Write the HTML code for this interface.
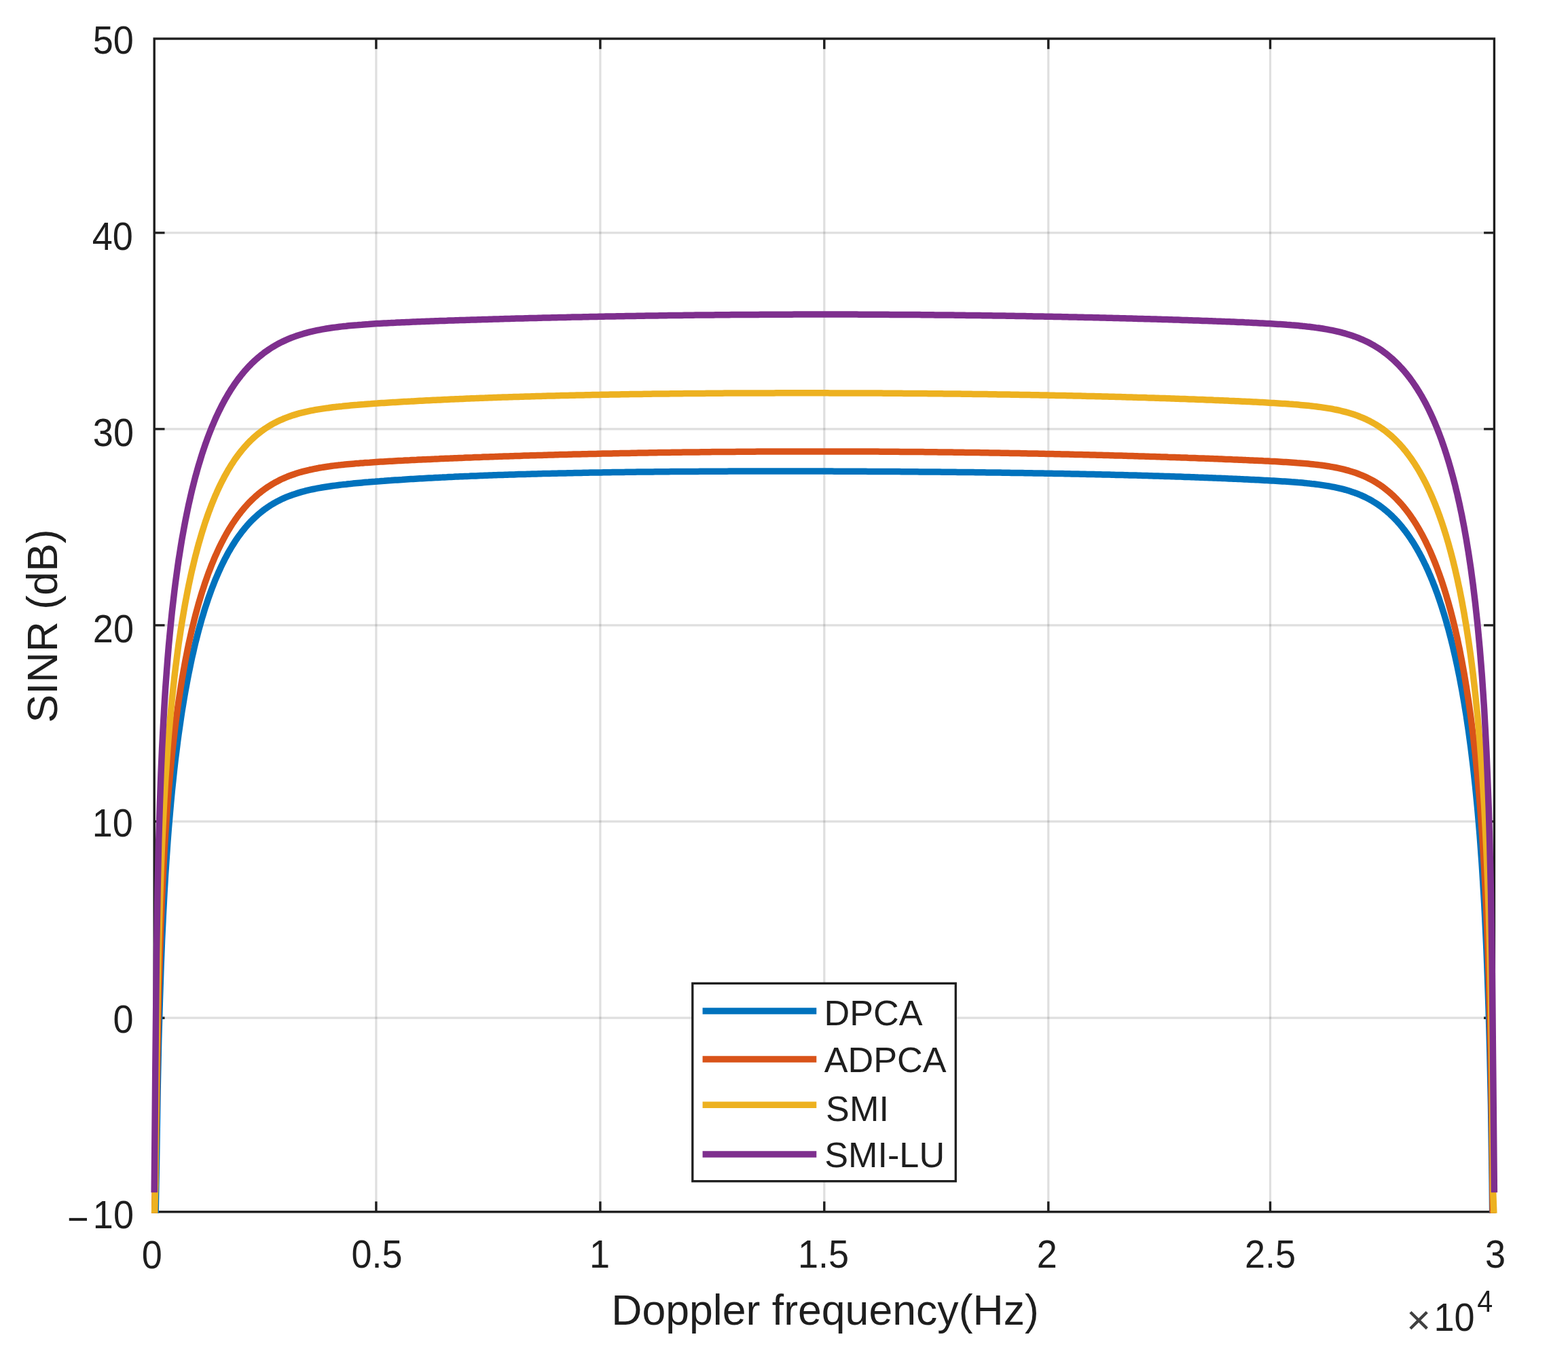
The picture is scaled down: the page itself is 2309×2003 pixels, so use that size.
<!DOCTYPE html>
<html><head><meta charset="utf-8"><title>SINR vs Doppler frequency</title>
<style>html,body{margin:0;padding:0;background:#fff;}body{width:2309px;height:2003px;overflow:hidden;}svg{display:block;}</style>
</head><body>
<svg width="2309" height="2003" viewBox="0 0 2309 2003">
<defs><clipPath id="ax"><rect x="221.2" y="57.0" width="1985.2" height="1729.8"/></clipPath></defs>
<rect width="2309" height="2003" fill="#fff"/>
<path d="M553.9 57.0V1784.8M883.9 57.0V1784.8M1213.8 57.0V1784.8M1543.8 57.0V1784.8M1870.5 57.0V1784.8" stroke="#262626" stroke-opacity="0.15" stroke-width="3.2" fill="none"/>
<path d="M227.2 342.9H2200.4M227.2 631.9H2200.4M227.2 920.9H2200.4M227.2 1209.9H2200.4M227.2 1499.2H2200.4" stroke="#262626" stroke-opacity="0.15" stroke-width="3.2" fill="none"/>
<path d="M553.9 57.0v15.3M553.9 1784.8v-15.3M883.9 57.0v15.3M883.9 1784.8v-15.3M1213.8 57.0v15.3M1213.8 1784.8v-15.3M1543.8 57.0v15.3M1543.8 1784.8v-15.3M1870.5 57.0v15.3M1870.5 1784.8v-15.3M227.2 342.9h15.3M2200.4 342.9h-15.3M227.2 631.9h15.3M2200.4 631.9h-15.3M227.2 920.9h15.3M2200.4 920.9h-15.3M227.2 1209.9h15.3M2200.4 1209.9h-15.3M227.2 1499.2h15.3M2200.4 1499.2h-15.3" stroke="#1e1e1e" stroke-width="3.4" fill="none"/>
<rect x="227.2" y="57.0" width="1973.2" height="1727.8" fill="none" stroke="#1e1e1e" stroke-width="3.4"/>
<g clip-path="url(#ax)" fill="none" stroke-width="9.5" stroke-linejoin="round" stroke-linecap="butt">
<path d="M227.2 1894.1 L230.5 1713.3 L232.1 1607.5 L233.7 1532.3 L235.4 1473.6 L237.0 1425.2 L238.6 1384.3 L240.3 1348.8 L241.9 1317.5 L243.5 1289.5 L245.2 1264.2 L246.8 1241.0 L248.4 1219.8 L250.1 1200.1 L251.7 1181.8 L253.3 1164.7 L255.0 1148.7 L256.6 1133.6 L258.2 1119.3 L259.9 1105.8 L261.5 1093.0 L263.1 1080.8 L264.8 1069.2 L266.4 1058.1 L268.0 1047.4 L269.7 1037.2 L271.3 1027.5 L272.9 1018.1 L274.6 1009.1 L276.2 1000.4 L277.8 992.0 L279.5 983.9 L281.1 976.1 L282.7 968.6 L284.4 961.3 L286.0 954.3 L287.6 947.4 L289.3 940.8 L290.9 934.5 L292.5 928.3 L294.2 922.2 L295.8 916.4 L297.4 910.8 L299.1 905.3 L300.7 899.9 L302.3 894.7 L304.0 889.7 L305.6 884.8 L307.2 880.0 L308.9 875.4 L310.5 870.9 L312.1 866.5 L313.8 862.3 L315.4 858.1 L317.0 854.1 L318.7 850.1 L320.3 846.3 L321.9 842.6 L323.6 839.0 L325.2 835.4 L326.8 832.0 L328.5 828.6 L330.1 825.4 L331.7 822.2 L333.4 819.1 L335.0 816.1 L336.6 813.1 L338.3 810.3 L339.9 807.5 L341.5 804.8 L343.2 802.1 L344.8 799.6 L346.4 797.0 L348.1 794.6 L349.7 792.2 L351.3 789.9 L353.0 787.7 L354.6 785.5 L356.2 783.3 L357.9 781.2 L359.5 779.2 L361.1 777.2 L362.8 775.3 L364.4 773.4 L366.0 771.6 L367.7 769.8 L369.3 768.1 L370.9 766.4 L372.6 764.8 L374.2 763.2 L375.8 761.7 L377.5 760.2 L379.1 758.7 L380.7 757.3 L382.4 755.9 L384.0 754.6 L385.6 753.3 L387.3 752.0 L388.9 750.7 L390.5 749.5 L392.2 748.4 L395.5 746.1 L398.7 744.0 L402.0 742.0 L405.3 740.2 L408.5 738.4 L411.8 736.7 L415.1 735.1 L418.3 733.6 L421.6 732.2 L424.9 730.9 L428.1 729.7 L431.4 728.5 L434.7 727.4 L437.9 726.4 L441.2 725.4 L444.5 724.4 L447.7 723.6 L451.0 722.7 L454.3 721.9 L457.5 721.2 L460.8 720.5 L464.1 719.8 L467.3 719.2 L470.6 718.6 L473.9 718.0 L477.1 717.5 L480.4 717.0 L483.7 716.5 L486.9 716.0 L490.2 715.5 L493.5 715.1 L496.7 714.7 L500.0 714.3 L503.3 713.9 L506.5 713.5 L509.8 713.2 L513.1 712.8 L516.3 712.5 L519.6 712.1 L522.9 711.8 L526.1 711.5 L529.4 711.2 L532.7 710.9 L535.9 710.6 L539.2 710.3 L542.5 710.1 L545.7 709.8 L549.0 709.5 L552.3 709.3 L555.6 709.0 L558.9 708.8 L562.1 708.5 L565.5 708.3 L568.8 708.0 L572.1 707.8 L575.4 707.6 L578.6 707.3 L581.9 707.1 L585.2 706.9 L588.5 706.7 L591.9 706.5 L595.1 706.2 L598.4 706.0 L601.8 705.8 L605.0 705.6 L608.4 705.4 L611.7 705.2 L615.0 705.0 L618.2 704.8 L621.5 704.7 L624.9 704.5 L628.1 704.3 L631.5 704.1 L634.8 703.9 L638.0 703.8 L641.4 703.6 L644.6 703.4 L648.0 703.2 L651.2 703.1 L654.6 702.9 L657.8 702.8 L661.2 702.6 L664.4 702.4 L667.8 702.3 L671.1 702.1 L674.4 702.0 L677.6 701.8 L680.9 701.7 L684.2 701.5 L687.6 701.4 L690.9 701.3 L694.1 701.1 L697.5 701.0 L700.8 700.9 L704.0 700.7 L707.4 700.6 L710.6 700.5 L714.0 700.3 L717.2 700.2 L720.5 700.1 L723.9 700.0 L727.2 699.8 L730.5 699.7 L733.8 699.6 L737.0 699.5 L740.4 699.4 L743.7 699.3 L746.9 699.2 L750.2 699.1 L753.5 699.0 L756.8 698.9 L760.2 698.7 L763.5 698.6 L766.8 698.5 L770.1 698.5 L773.4 698.4 L776.6 698.3 L780.0 698.2 L783.2 698.1 L786.5 698.0 L789.8 697.9 L793.1 697.8 L796.5 697.7 L799.8 697.6 L803.1 697.6 L806.4 697.5 L809.6 697.4 L813.0 697.3 L816.2 697.2 L819.5 697.2 L822.9 697.1 L826.2 697.0 L829.5 696.9 L832.8 696.9 L836.1 696.8 L839.4 696.7 L842.6 696.7 L846.0 696.6 L849.2 696.5 L852.5 696.5 L855.9 696.4 L859.2 696.3 L862.5 696.3 L865.8 696.2 L869.0 696.1 L872.4 696.1 L875.7 696.0 L879.0 696.0 L882.2 695.9 L885.5 695.9 L888.8 695.8 L892.1 695.8 L895.4 695.7 L898.7 695.7 L902.0 695.6 L905.3 695.6 L908.6 695.5 L911.9 695.5 L915.2 695.4 L918.5 695.4 L921.8 695.3 L925.1 695.3 L928.4 695.2 L931.7 695.2 L935.0 695.2 L938.3 695.1 L941.6 695.1 L944.9 695.1 L948.2 695.0 L951.5 695.0 L954.8 694.9 L958.1 694.9 L961.4 694.9 L964.7 694.8 L968.0 694.8 L971.3 694.8 L974.6 694.7 L977.9 694.7 L981.2 694.7 L984.5 694.7 L987.8 694.6 L991.1 694.6 L994.4 694.6 L997.7 694.6 L1001.0 694.5 L1004.3 694.5 L1007.6 694.5 L1010.9 694.5 L1014.2 694.4 L1017.5 694.4 L1020.8 694.4 L1024.1 694.4 L1027.4 694.4 L1030.7 694.3 L1034.0 694.3 L1037.3 694.3 L1040.6 694.3 L1043.9 694.3 L1047.2 694.2 L1050.5 694.2 L1053.8 694.2 L1057.1 694.2 L1060.4 694.2 L1063.7 694.2 L1067.0 694.2 L1070.3 694.2 L1073.6 694.1 L1076.9 694.1 L1080.2 694.1 L1083.5 694.1 L1086.8 694.1 L1090.1 694.1 L1093.4 694.1 L1096.7 694.1 L1100.0 694.1 L1103.3 694.1 L1106.6 694.1 L1109.9 694.0 L1113.2 694.0 L1116.5 694.0 L1119.8 694.0 L1123.1 694.0 L1126.4 694.0 L1129.7 694.0 L1133.0 694.0 L1136.3 694.0 L1139.6 694.0 L1142.9 694.0 L1146.2 694.0 L1149.5 694.0 L1152.8 694.0 L1156.1 694.0 L1159.4 694.0 L1162.7 694.0 L1166.0 694.0 L1169.3 694.0 L1172.6 694.0 L1175.9 694.0 L1179.2 694.0 L1182.5 694.0 L1185.8 694.0 L1189.1 694.1 L1192.4 694.1 L1195.7 694.1 L1199.0 694.1 L1202.3 694.1 L1205.6 694.1 L1208.9 694.1 L1212.2 694.1 L1215.4 694.1 L1218.8 694.1 L1222.0 694.1 L1225.3 694.1 L1228.7 694.2 L1231.9 694.2 L1235.2 694.2 L1238.5 694.2 L1241.8 694.2 L1245.2 694.2 L1248.5 694.2 L1251.8 694.2 L1255.0 694.2 L1258.4 694.3 L1261.6 694.3 L1265.0 694.3 L1268.2 694.3 L1271.5 694.3 L1274.9 694.3 L1278.2 694.4 L1281.5 694.4 L1284.8 694.4 L1288.1 694.4 L1291.4 694.4 L1294.7 694.4 L1297.9 694.5 L1301.2 694.5 L1304.6 694.5 L1307.8 694.5 L1311.1 694.5 L1314.5 694.6 L1317.8 694.6 L1321.0 694.6 L1324.4 694.6 L1327.6 694.7 L1331.0 694.7 L1334.2 694.7 L1337.5 694.7 L1340.9 694.8 L1344.2 694.8 L1347.5 694.8 L1350.8 694.8 L1354.1 694.9 L1357.3 694.9 L1360.7 694.9 L1364.0 694.9 L1367.2 695.0 L1370.6 695.0 L1373.9 695.0 L1377.2 695.1 L1380.5 695.1 L1383.7 695.1 L1387.1 695.2 L1390.3 695.2 L1393.6 695.2 L1397.0 695.2 L1400.2 695.3 L1403.5 695.3 L1406.8 695.3 L1410.2 695.4 L1413.5 695.4 L1416.8 695.5 L1420.1 695.5 L1423.3 695.5 L1426.7 695.6 L1430.0 695.6 L1433.2 695.6 L1436.5 695.7 L1439.9 695.7 L1443.2 695.8 L1446.5 695.8 L1449.8 695.8 L1453.0 695.9 L1456.4 695.9 L1459.7 696.0 L1462.9 696.0 L1466.3 696.0 L1469.5 696.1 L1472.8 696.1 L1476.2 696.2 L1479.4 696.2 L1482.8 696.3 L1486.0 696.3 L1489.3 696.4 L1492.7 696.4 L1496.0 696.5 L1499.2 696.5 L1502.5 696.6 L1505.9 696.6 L1509.2 696.7 L1512.5 696.7 L1515.8 696.8 L1519.0 696.8 L1522.4 696.9 L1525.7 696.9 L1529.0 697.0 L1532.2 697.0 L1535.6 697.1 L1538.9 697.2 L1542.2 697.2 L1545.4 697.3 L1548.7 697.3 L1552.0 697.4 L1555.2 697.4 L1558.5 697.5 L1561.8 697.6 L1565.0 697.6 L1568.3 697.7 L1571.6 697.8 L1574.8 697.8 L1578.1 697.9 L1581.4 698.0 L1584.6 698.0 L1587.9 698.1 L1591.2 698.2 L1594.4 698.2 L1597.7 698.3 L1601.0 698.4 L1604.2 698.4 L1607.5 698.5 L1610.8 698.6 L1614.0 698.7 L1617.3 698.7 L1620.6 698.8 L1623.8 698.9 L1627.1 699.0 L1630.4 699.0 L1633.6 699.1 L1636.9 699.2 L1640.2 699.3 L1643.4 699.4 L1646.7 699.4 L1650.0 699.5 L1653.2 699.6 L1656.5 699.7 L1659.8 699.8 L1663.0 699.9 L1666.3 699.9 L1669.6 700.0 L1672.8 700.1 L1676.1 700.2 L1679.4 700.3 L1682.6 700.4 L1685.9 700.5 L1689.2 700.6 L1692.4 700.7 L1695.7 700.8 L1699.0 700.9 L1702.2 701.0 L1705.5 701.1 L1708.8 701.2 L1712.1 701.3 L1715.3 701.4 L1718.6 701.5 L1721.9 701.6 L1725.1 701.7 L1728.4 701.8 L1731.7 701.9 L1734.9 702.0 L1738.2 702.1 L1741.5 702.2 L1744.7 702.4 L1748.0 702.5 L1751.3 702.6 L1754.5 702.7 L1757.8 702.8 L1761.1 702.9 L1764.3 703.1 L1767.6 703.2 L1770.9 703.3 L1774.1 703.4 L1777.4 703.5 L1780.7 703.7 L1783.9 703.8 L1787.2 703.9 L1790.5 704.1 L1793.7 704.2 L1797.0 704.3 L1800.3 704.5 L1803.5 704.6 L1806.8 704.7 L1810.1 704.9 L1813.3 705.0 L1816.6 705.2 L1819.9 705.3 L1823.1 705.4 L1826.4 705.6 L1829.7 705.7 L1832.9 705.9 L1836.2 706.0 L1839.5 706.2 L1842.7 706.4 L1846.0 706.5 L1849.3 706.7 L1852.5 706.8 L1855.8 707.0 L1859.1 707.2 L1862.3 707.4 L1865.6 707.5 L1868.9 707.7 L1872.1 707.9 L1875.4 708.1 L1878.7 708.3 L1882.0 708.5 L1885.3 708.7 L1888.6 708.9 L1891.9 709.1 L1895.2 709.3 L1898.5 709.5 L1901.8 709.8 L1905.1 710.0 L1908.4 710.3 L1911.7 710.6 L1915.0 710.8 L1918.3 711.1 L1921.6 711.4 L1924.9 711.8 L1928.2 712.1 L1931.5 712.5 L1934.8 712.8 L1938.1 713.2 L1941.4 713.6 L1944.7 714.1 L1948.0 714.6 L1951.3 715.1 L1954.6 715.6 L1957.9 716.2 L1961.2 716.8 L1964.5 717.4 L1967.8 718.1 L1971.1 718.8 L1974.4 719.6 L1977.7 720.4 L1981.0 721.3 L1984.3 722.3 L1987.6 723.3 L1990.9 724.4 L1994.2 725.5 L1997.5 726.7 L2000.8 728.0 L2004.1 729.4 L2007.4 730.9 L2010.7 732.4 L2014.0 734.1 L2017.3 735.8 L2020.6 737.7 L2023.9 739.7 L2027.2 741.8 L2030.5 744.0 L2032.2 745.2 L2033.8 746.4 L2035.5 747.6 L2037.1 748.9 L2038.7 750.2 L2040.4 751.6 L2042.0 752.9 L2043.7 754.4 L2045.3 755.8 L2047.0 757.3 L2048.6 758.9 L2050.3 760.4 L2051.9 762.1 L2053.6 763.7 L2055.2 765.5 L2056.9 767.2 L2058.5 769.0 L2060.2 770.9 L2061.8 772.8 L2063.5 774.8 L2065.1 776.8 L2066.8 778.9 L2068.4 781.0 L2070.1 783.2 L2071.7 785.4 L2073.4 787.7 L2075.0 790.1 L2076.7 792.5 L2078.3 795.0 L2080.0 797.5 L2081.6 800.1 L2083.3 802.8 L2084.9 805.5 L2086.6 808.4 L2088.2 811.3 L2089.9 814.2 L2091.5 817.3 L2093.2 820.4 L2094.8 823.6 L2096.5 826.9 L2098.1 830.3 L2099.8 833.7 L2101.4 837.3 L2103.1 840.9 L2104.7 844.7 L2106.4 848.5 L2108.0 852.5 L2109.7 856.5 L2111.3 860.7 L2113.0 864.9 L2114.6 869.3 L2116.3 873.8 L2117.9 878.4 L2119.6 883.2 L2121.2 888.1 L2122.9 893.1 L2124.5 898.3 L2126.2 903.6 L2127.8 909.0 L2129.5 914.7 L2131.1 920.5 L2132.8 926.4 L2134.4 932.6 L2136.1 938.9 L2137.7 945.4 L2139.4 952.2 L2141.0 959.1 L2142.7 966.3 L2144.3 973.7 L2146.0 981.4 L2147.6 989.4 L2149.3 997.6 L2150.9 1006.2 L2152.6 1015.0 L2154.2 1024.2 L2155.9 1033.8 L2157.5 1043.7 L2159.2 1054.1 L2160.8 1065.0 L2162.5 1076.3 L2164.1 1088.1 L2165.8 1100.6 L2167.4 1113.7 L2169.1 1127.4 L2170.7 1142.0 L2172.4 1157.4 L2174.0 1173.7 L2175.7 1191.2 L2177.3 1209.8 L2179.0 1229.9 L2180.6 1251.6 L2182.3 1275.3 L2183.9 1301.1 L2185.6 1329.8 L2187.2 1361.8 L2188.9 1398.1 L2190.5 1440.1 L2192.2 1489.7 L2193.8 1549.7 L2195.5 1626.9 L2197.1 1735.6 L2198.8 1899.0 L2200.4 1899.0" stroke="#0072BD"/>
<path d="M227.2 1808.6 L230.5 1635.6 L232.1 1534.3 L233.7 1462.0 L235.4 1405.5 L237.0 1359.3 L238.6 1320.3 L240.3 1286.5 L241.9 1256.7 L243.5 1230.0 L245.2 1206.0 L246.8 1184.0 L248.4 1163.8 L250.1 1145.2 L251.7 1127.9 L253.3 1111.7 L255.0 1096.5 L256.6 1082.2 L258.2 1068.7 L259.9 1055.9 L261.5 1043.8 L263.1 1032.3 L264.8 1021.3 L266.4 1010.8 L268.0 1000.8 L269.7 991.2 L271.3 982.0 L272.9 973.2 L274.6 964.7 L276.2 956.5 L277.8 948.6 L279.5 941.0 L281.1 933.7 L282.7 926.6 L284.4 919.8 L286.0 913.2 L287.6 906.8 L289.3 900.6 L290.9 894.6 L292.5 888.8 L294.2 883.1 L295.8 877.7 L297.4 872.3 L299.1 867.2 L300.7 862.2 L302.3 857.3 L304.0 852.6 L305.6 848.0 L307.2 843.5 L308.9 839.2 L310.5 835.0 L312.1 830.8 L313.8 826.8 L315.4 822.9 L317.0 819.1 L318.7 815.5 L320.3 811.9 L321.9 808.4 L323.6 804.9 L325.2 801.6 L326.8 798.4 L328.5 795.2 L330.1 792.1 L331.7 789.2 L333.4 786.2 L335.0 783.4 L336.6 780.6 L338.3 777.9 L339.9 775.3 L341.5 772.7 L343.2 770.2 L344.8 767.8 L346.4 765.4 L348.1 763.1 L349.7 760.8 L351.3 758.6 L353.0 756.5 L354.6 754.4 L356.2 752.3 L357.9 750.3 L359.5 748.4 L361.1 746.5 L362.8 744.7 L364.4 742.9 L366.0 741.1 L367.7 739.4 L369.3 737.8 L370.9 736.2 L372.6 734.6 L374.2 733.1 L375.8 731.6 L377.5 730.1 L379.1 728.7 L380.7 727.3 L382.4 726.0 L384.0 724.7 L385.6 723.4 L387.3 722.2 L388.9 721.0 L390.5 719.8 L393.8 717.5 L397.1 715.4 L400.4 713.4 L403.6 711.5 L406.9 709.7 L410.2 708.0 L413.4 706.3 L416.7 704.8 L420.0 703.4 L423.2 702.0 L426.5 700.7 L429.8 699.5 L433.0 698.4 L436.3 697.3 L439.6 696.3 L442.8 695.3 L446.1 694.4 L449.4 693.6 L452.6 692.8 L455.9 692.0 L459.2 691.3 L462.4 690.6 L465.7 690.0 L469.0 689.3 L472.2 688.8 L475.5 688.2 L478.8 687.7 L482.0 687.2 L485.3 686.8 L488.6 686.3 L491.8 685.9 L495.1 685.5 L498.4 685.1 L501.6 684.8 L504.9 684.4 L508.2 684.1 L511.4 683.8 L514.7 683.5 L518.0 683.2 L521.2 682.9 L524.5 682.6 L527.8 682.4 L531.0 682.1 L534.3 681.9 L537.6 681.6 L540.8 681.4 L544.1 681.2 L547.4 680.9 L550.6 680.7 L553.9 680.5 L557.2 680.3 L560.5 680.1 L563.8 679.9 L567.1 679.7 L570.4 679.5 L573.7 679.3 L577.0 679.2 L580.3 679.0 L583.6 678.8 L586.9 678.6 L590.2 678.4 L593.5 678.3 L596.8 678.1 L600.1 677.9 L603.4 677.8 L606.7 677.6 L610.0 677.4 L613.3 677.3 L616.6 677.1 L619.9 677.0 L623.2 676.8 L626.5 676.7 L629.8 676.5 L633.1 676.4 L636.4 676.2 L639.7 676.1 L643.0 675.9 L646.3 675.8 L649.6 675.6 L652.9 675.5 L656.2 675.3 L659.5 675.2 L662.8 675.1 L666.1 674.9 L669.4 674.8 L672.7 674.7 L676.0 674.5 L679.3 674.4 L682.6 674.3 L685.9 674.1 L689.2 674.0 L692.5 673.9 L695.8 673.8 L699.1 673.6 L702.4 673.5 L705.7 673.4 L709.0 673.3 L712.3 673.1 L715.6 673.0 L718.9 672.9 L722.2 672.8 L725.5 672.7 L728.8 672.6 L732.1 672.4 L735.4 672.3 L738.7 672.2 L742.0 672.1 L745.3 672.0 L748.6 671.9 L751.9 671.8 L755.2 671.7 L758.5 671.6 L761.8 671.5 L765.1 671.4 L768.4 671.2 L771.7 671.1 L775.0 671.0 L778.3 670.9 L781.6 670.8 L784.9 670.7 L788.2 670.7 L791.5 670.6 L794.8 670.5 L798.1 670.4 L801.4 670.3 L804.7 670.2 L808.0 670.1 L811.3 670.0 L814.6 669.9 L817.9 669.8 L821.2 669.7 L824.5 669.6 L827.8 669.6 L831.1 669.5 L834.4 669.4 L837.7 669.3 L841.0 669.2 L844.3 669.1 L847.6 669.1 L850.9 669.0 L854.2 668.9 L857.5 668.8 L860.8 668.7 L864.1 668.7 L867.4 668.6 L870.7 668.5 L874.0 668.4 L877.3 668.4 L880.6 668.3 L883.9 668.2 L887.2 668.1 L890.5 668.1 L893.8 668.0 L897.1 667.9 L900.4 667.9 L903.7 667.8 L907.0 667.7 L910.3 667.7 L913.6 667.6 L916.9 667.5 L920.2 667.5 L923.5 667.4 L926.8 667.4 L930.1 667.3 L933.4 667.2 L936.7 667.2 L940.0 667.1 L943.3 667.1 L946.6 667.0 L949.9 667.0 L953.2 666.9 L956.5 666.8 L959.8 666.8 L963.1 666.7 L966.4 666.7 L969.7 666.6 L973.0 666.6 L976.3 666.5 L979.6 666.5 L982.9 666.4 L986.2 666.4 L989.5 666.3 L992.8 666.3 L996.1 666.3 L999.4 666.2 L1002.7 666.2 L1006.0 666.1 L1009.3 666.1 L1012.6 666.0 L1015.9 666.0 L1019.2 666.0 L1022.5 665.9 L1025.8 665.9 L1029.1 665.9 L1032.4 665.8 L1035.7 665.8 L1039.0 665.7 L1042.3 665.7 L1045.6 665.7 L1048.8 665.6 L1052.1 665.6 L1055.4 665.6 L1058.7 665.5 L1062.0 665.5 L1065.3 665.5 L1068.6 665.5 L1071.9 665.4 L1075.2 665.4 L1078.5 665.4 L1081.8 665.4 L1085.1 665.3 L1088.4 665.3 L1091.7 665.3 L1095.0 665.3 L1098.3 665.2 L1101.6 665.2 L1104.9 665.2 L1108.2 665.2 L1111.5 665.2 L1114.8 665.1 L1118.1 665.1 L1121.4 665.1 L1124.7 665.1 L1128.0 665.1 L1131.3 665.0 L1134.6 665.0 L1137.9 665.0 L1141.2 665.0 L1144.5 665.0 L1147.8 665.0 L1151.1 665.0 L1154.4 665.0 L1157.7 665.0 L1161.0 664.9 L1164.3 664.9 L1167.6 664.9 L1170.9 664.9 L1174.2 664.9 L1177.5 664.9 L1180.8 664.9 L1184.1 664.9 L1187.4 664.9 L1190.7 664.9 L1194.0 664.9 L1197.3 664.9 L1200.6 664.9 L1203.9 664.9 L1207.2 664.9 L1210.5 664.9 L1213.8 664.9 L1217.1 664.9 L1220.4 664.9 L1223.7 664.9 L1227.0 664.9 L1230.3 664.9 L1233.6 664.9 L1236.9 664.9 L1240.2 664.9 L1243.5 664.9 L1246.8 664.9 L1250.1 665.0 L1253.4 665.0 L1256.7 665.0 L1260.0 665.0 L1263.3 665.0 L1266.6 665.0 L1269.9 665.0 L1273.2 665.0 L1276.5 665.1 L1279.8 665.1 L1283.1 665.1 L1286.4 665.1 L1289.7 665.1 L1293.0 665.1 L1296.3 665.2 L1299.6 665.2 L1302.9 665.2 L1306.2 665.2 L1309.5 665.2 L1312.8 665.3 L1316.1 665.3 L1319.4 665.3 L1322.7 665.3 L1326.0 665.4 L1329.3 665.4 L1332.6 665.4 L1335.9 665.4 L1339.2 665.5 L1342.5 665.5 L1345.8 665.5 L1349.1 665.6 L1352.4 665.6 L1355.7 665.6 L1359.0 665.6 L1362.3 665.7 L1365.6 665.7 L1368.9 665.7 L1372.2 665.8 L1375.5 665.8 L1378.8 665.8 L1382.1 665.9 L1385.4 665.9 L1388.7 666.0 L1392.0 666.0 L1395.3 666.0 L1398.6 666.1 L1401.9 666.1 L1405.2 666.2 L1408.5 666.2 L1411.8 666.2 L1415.1 666.3 L1418.4 666.3 L1421.7 666.4 L1425.0 666.4 L1428.3 666.5 L1431.6 666.5 L1434.9 666.6 L1438.2 666.6 L1441.5 666.6 L1444.8 666.7 L1448.1 666.7 L1451.4 666.8 L1454.7 666.8 L1458.0 666.9 L1461.3 667.0 L1464.6 667.0 L1467.9 667.1 L1471.2 667.1 L1474.5 667.2 L1477.8 667.2 L1481.1 667.3 L1484.4 667.3 L1487.7 667.4 L1491.0 667.5 L1494.3 667.5 L1497.6 667.6 L1500.9 667.6 L1504.2 667.7 L1507.5 667.8 L1510.8 667.8 L1514.1 667.9 L1517.4 667.9 L1520.7 668.0 L1524.0 668.1 L1527.3 668.1 L1530.6 668.2 L1533.9 668.3 L1537.2 668.3 L1540.5 668.4 L1543.8 668.5 L1547.1 668.5 L1550.3 668.6 L1553.6 668.7 L1556.9 668.8 L1560.1 668.8 L1563.4 668.9 L1566.7 669.0 L1569.9 669.1 L1573.2 669.1 L1576.5 669.2 L1579.7 669.3 L1583.0 669.4 L1586.3 669.4 L1589.5 669.5 L1592.8 669.6 L1596.1 669.7 L1599.3 669.8 L1602.6 669.8 L1605.9 669.9 L1609.1 670.0 L1612.4 670.1 L1615.7 670.2 L1618.9 670.3 L1622.2 670.3 L1625.5 670.4 L1628.7 670.5 L1632.0 670.6 L1635.3 670.7 L1638.5 670.8 L1641.8 670.9 L1645.1 671.0 L1648.3 671.1 L1651.6 671.1 L1654.9 671.2 L1658.1 671.3 L1661.4 671.4 L1664.7 671.5 L1667.9 671.6 L1671.2 671.7 L1674.5 671.8 L1677.7 671.9 L1681.0 672.0 L1684.3 672.1 L1687.5 672.2 L1690.8 672.3 L1694.1 672.4 L1697.3 672.5 L1700.6 672.6 L1703.9 672.7 L1707.2 672.8 L1710.4 672.9 L1713.7 673.0 L1717.0 673.1 L1720.2 673.3 L1723.5 673.4 L1726.8 673.5 L1730.0 673.6 L1733.3 673.7 L1736.6 673.8 L1739.8 673.9 L1743.1 674.0 L1746.4 674.1 L1749.6 674.3 L1752.9 674.4 L1756.2 674.5 L1759.4 674.6 L1762.7 674.7 L1766.0 674.9 L1769.2 675.0 L1772.5 675.1 L1775.8 675.2 L1779.0 675.3 L1782.3 675.5 L1785.6 675.6 L1788.8 675.7 L1792.1 675.8 L1795.4 676.0 L1798.6 676.1 L1801.9 676.2 L1805.2 676.4 L1808.4 676.5 L1811.7 676.6 L1815.0 676.8 L1818.2 676.9 L1821.5 677.0 L1824.8 677.2 L1828.0 677.3 L1831.3 677.4 L1834.6 677.6 L1837.8 677.7 L1841.1 677.9 L1844.4 678.0 L1847.6 678.2 L1850.9 678.3 L1854.2 678.5 L1857.4 678.6 L1860.7 678.8 L1864.0 678.9 L1867.2 679.1 L1870.5 679.3 L1873.8 679.4 L1877.1 679.6 L1880.4 679.8 L1883.7 680.0 L1887.0 680.2 L1890.3 680.4 L1893.6 680.6 L1896.9 680.8 L1900.2 681.0 L1903.5 681.2 L1906.8 681.4 L1910.1 681.7 L1913.4 681.9 L1916.7 682.2 L1920.0 682.5 L1923.3 682.8 L1926.6 683.1 L1929.9 683.4 L1933.2 683.7 L1936.5 684.1 L1939.8 684.5 L1943.1 684.9 L1946.4 685.3 L1949.7 685.7 L1953.0 686.2 L1956.3 686.7 L1959.6 687.3 L1962.9 687.9 L1966.2 688.5 L1969.5 689.2 L1972.8 689.9 L1976.1 690.6 L1979.4 691.4 L1982.7 692.3 L1986.0 693.2 L1989.3 694.2 L1992.6 695.2 L1995.9 696.3 L1999.2 697.5 L2002.5 698.8 L2005.8 700.1 L2009.1 701.5 L2012.4 703.1 L2015.7 704.7 L2019.0 706.4 L2022.3 708.2 L2025.6 710.1 L2028.9 712.2 L2032.2 714.3 L2033.8 715.5 L2035.5 716.6 L2037.1 717.8 L2038.7 719.1 L2040.4 720.3 L2042.0 721.7 L2043.7 723.0 L2045.3 724.4 L2047.0 725.8 L2048.6 727.3 L2050.3 728.8 L2051.9 730.3 L2053.6 731.9 L2055.2 733.5 L2056.9 735.2 L2058.5 736.9 L2060.2 738.7 L2061.8 740.5 L2063.5 742.3 L2065.1 744.2 L2066.8 746.2 L2068.4 748.2 L2070.1 750.3 L2071.7 752.4 L2073.4 754.6 L2075.0 756.8 L2076.7 759.1 L2078.3 761.5 L2080.0 763.9 L2081.6 766.4 L2083.3 769.0 L2084.9 771.6 L2086.6 774.3 L2088.2 777.0 L2089.9 779.9 L2091.5 782.8 L2093.2 785.8 L2094.8 788.8 L2096.5 792.0 L2098.1 795.2 L2099.8 798.5 L2101.4 801.9 L2103.1 805.4 L2104.7 808.9 L2106.4 812.6 L2108.0 816.4 L2109.7 820.3 L2111.3 824.3 L2113.0 828.3 L2114.6 832.5 L2116.3 836.9 L2117.9 841.3 L2119.6 845.9 L2121.2 850.5 L2122.9 855.4 L2124.5 860.3 L2126.2 865.4 L2127.8 870.7 L2129.5 876.1 L2131.1 881.7 L2132.8 887.4 L2134.4 893.3 L2136.1 899.4 L2137.7 905.7 L2139.4 912.2 L2141.0 918.9 L2142.7 925.8 L2144.3 933.0 L2146.0 940.4 L2147.6 948.1 L2149.3 956.1 L2150.9 964.3 L2152.6 972.9 L2154.2 981.8 L2155.9 991.0 L2157.5 1000.7 L2159.2 1010.7 L2160.8 1021.2 L2162.5 1032.2 L2164.1 1043.7 L2165.8 1055.8 L2167.4 1068.4 L2169.1 1081.8 L2170.7 1095.9 L2172.4 1110.9 L2174.0 1126.7 L2175.7 1143.7 L2177.3 1161.8 L2179.0 1181.3 L2180.6 1202.4 L2182.3 1225.4 L2183.9 1250.6 L2185.6 1278.5 L2187.2 1309.6 L2188.9 1345.0 L2190.5 1385.8 L2192.2 1434.1 L2193.8 1493.3 L2195.5 1568.6 L2197.1 1674.6 L2198.8 1855.8 L2200.4 1855.8" stroke="#D95319"/>
<path d="M227.2 1801.9 L228.8 1744.2 L230.5 1567.2 L232.1 1463.1 L233.7 1388.5 L235.4 1330.7 L237.0 1283.4 L238.6 1243.4 L240.3 1208.8 L241.9 1178.3 L243.5 1151.0 L245.2 1126.3 L246.8 1103.8 L248.4 1083.2 L250.1 1064.0 L251.7 1046.3 L253.3 1029.6 L255.0 1014.1 L256.6 999.4 L258.2 985.6 L259.9 972.5 L261.5 960.0 L263.1 948.2 L264.8 937.0 L266.4 926.2 L268.0 915.9 L269.7 906.1 L271.3 896.6 L272.9 887.6 L274.6 878.8 L276.2 870.5 L277.8 862.4 L279.5 854.6 L281.1 847.1 L282.7 839.8 L284.4 832.8 L286.0 826.1 L287.6 819.5 L289.3 813.2 L290.9 807.0 L292.5 801.1 L294.2 795.3 L295.8 789.7 L297.4 784.3 L299.1 779.0 L300.7 773.9 L302.3 768.9 L304.0 764.1 L305.6 759.4 L307.2 754.9 L308.9 750.5 L310.5 746.2 L312.1 742.0 L313.8 737.9 L315.4 734.0 L317.0 730.1 L318.7 726.4 L320.3 722.7 L321.9 719.2 L323.6 715.7 L325.2 712.3 L326.8 709.1 L328.5 705.9 L330.1 702.8 L331.7 699.8 L333.4 696.8 L335.0 694.0 L336.6 691.2 L338.3 688.5 L339.9 685.8 L341.5 683.3 L343.2 680.8 L344.8 678.3 L346.4 675.9 L348.1 673.6 L349.7 671.4 L351.3 669.2 L353.0 667.1 L354.6 665.0 L356.2 663.0 L357.9 661.0 L359.5 659.1 L361.1 657.2 L362.8 655.4 L364.4 653.6 L366.0 651.9 L367.7 650.3 L369.3 648.6 L370.9 647.1 L372.6 645.5 L374.2 644.0 L375.8 642.6 L377.5 641.2 L379.1 639.8 L380.7 638.5 L382.4 637.2 L384.0 635.9 L385.6 634.7 L387.3 633.5 L388.9 632.3 L392.2 630.1 L395.5 628.0 L398.7 626.0 L402.0 624.2 L405.3 622.4 L408.5 620.8 L411.8 619.2 L415.1 617.8 L418.3 616.4 L421.6 615.1 L424.9 613.9 L428.1 612.7 L431.4 611.6 L434.7 610.6 L437.9 609.6 L441.2 608.7 L444.5 607.9 L447.7 607.1 L451.0 606.3 L454.3 605.6 L457.5 604.9 L460.8 604.3 L464.1 603.7 L467.3 603.1 L470.6 602.6 L473.9 602.1 L477.1 601.6 L480.4 601.1 L483.7 600.7 L486.9 600.2 L490.2 599.8 L493.5 599.4 L496.7 599.1 L500.0 598.7 L503.3 598.4 L506.5 598.0 L509.8 597.7 L513.1 597.4 L516.3 597.1 L519.6 596.8 L522.9 596.5 L526.1 596.3 L529.4 596.0 L532.7 595.7 L535.9 595.5 L539.2 595.2 L542.5 595.0 L545.7 594.8 L549.0 594.5 L552.3 594.3 L555.6 594.1 L558.9 593.8 L562.1 593.6 L565.5 593.4 L568.8 593.2 L572.1 593.0 L575.4 592.8 L578.6 592.6 L581.9 592.4 L585.2 592.2 L588.5 592.0 L591.9 591.8 L595.1 591.6 L598.4 591.4 L601.8 591.2 L605.0 591.1 L608.4 590.9 L611.7 590.7 L615.0 590.5 L618.2 590.3 L621.5 590.2 L624.9 590.0 L628.1 589.8 L631.5 589.7 L634.8 589.5 L638.0 589.3 L641.4 589.2 L644.6 589.0 L648.0 588.9 L651.2 588.7 L654.6 588.5 L657.8 588.4 L661.2 588.2 L664.4 588.1 L667.8 588.0 L671.1 587.8 L674.4 587.7 L677.6 587.5 L680.9 587.4 L684.2 587.2 L687.6 587.1 L690.9 587.0 L694.1 586.8 L697.5 586.7 L700.8 586.6 L704.0 586.4 L707.4 586.3 L710.6 586.2 L714.0 586.1 L717.2 585.9 L720.5 585.8 L723.9 585.7 L727.2 585.6 L730.5 585.5 L733.8 585.3 L737.0 585.2 L740.4 585.1 L743.7 585.0 L746.9 584.9 L750.2 584.8 L753.5 584.7 L756.8 584.6 L760.2 584.5 L763.5 584.4 L766.8 584.3 L770.1 584.2 L773.4 584.1 L776.6 584.0 L780.0 583.9 L783.2 583.8 L786.5 583.7 L789.8 583.6 L793.1 583.5 L796.5 583.4 L799.8 583.3 L803.1 583.2 L806.4 583.1 L809.6 583.0 L813.0 583.0 L816.2 582.9 L819.5 582.8 L822.9 582.7 L826.2 582.6 L829.5 582.5 L832.8 582.5 L836.1 582.4 L839.4 582.3 L842.6 582.2 L846.0 582.2 L849.2 582.1 L852.5 582.0 L855.9 581.9 L859.2 581.9 L862.5 581.8 L865.8 581.7 L869.0 581.7 L872.4 581.6 L875.7 581.5 L879.0 581.5 L882.2 581.4 L885.5 581.3 L888.8 581.3 L892.1 581.2 L895.4 581.2 L898.7 581.1 L902.0 581.0 L905.3 581.0 L908.6 580.9 L911.9 580.9 L915.2 580.8 L918.5 580.8 L921.8 580.7 L925.1 580.7 L928.4 580.6 L931.7 580.6 L935.0 580.5 L938.3 580.5 L941.6 580.4 L944.9 580.4 L948.2 580.3 L951.5 580.3 L954.8 580.2 L958.1 580.2 L961.4 580.1 L964.7 580.1 L968.0 580.1 L971.3 580.0 L974.6 580.0 L977.9 579.9 L981.2 579.9 L984.5 579.9 L987.8 579.8 L991.1 579.8 L994.4 579.8 L997.7 579.7 L1001.0 579.7 L1004.3 579.7 L1007.6 579.6 L1010.9 579.6 L1014.2 579.6 L1017.5 579.5 L1020.8 579.5 L1024.1 579.5 L1027.4 579.4 L1030.7 579.4 L1034.0 579.4 L1037.3 579.4 L1040.6 579.3 L1043.9 579.3 L1047.2 579.3 L1050.5 579.3 L1053.8 579.2 L1057.1 579.2 L1060.4 579.2 L1063.7 579.2 L1067.0 579.1 L1070.3 579.1 L1073.6 579.1 L1076.9 579.1 L1080.2 579.1 L1083.5 579.1 L1086.8 579.0 L1090.1 579.0 L1093.4 579.0 L1096.7 579.0 L1100.0 579.0 L1103.3 579.0 L1106.6 579.0 L1109.9 578.9 L1113.2 578.9 L1116.5 578.9 L1119.8 578.9 L1123.1 578.9 L1126.4 578.9 L1129.7 578.9 L1133.0 578.9 L1136.3 578.9 L1139.6 578.9 L1142.9 578.8 L1146.2 578.8 L1149.5 578.8 L1152.8 578.8 L1156.1 578.8 L1159.4 578.8 L1162.7 578.8 L1166.0 578.8 L1169.3 578.8 L1172.6 578.8 L1175.9 578.8 L1179.2 578.8 L1182.5 578.8 L1185.8 578.8 L1189.1 578.8 L1192.4 578.8 L1195.7 578.8 L1199.0 578.8 L1202.3 578.8 L1205.6 578.8 L1208.9 578.8 L1212.2 578.8 L1215.4 578.8 L1218.8 578.8 L1222.0 578.9 L1225.3 578.9 L1228.7 578.9 L1231.9 578.9 L1235.2 578.9 L1238.5 578.9 L1241.8 578.9 L1245.2 578.9 L1248.5 578.9 L1251.8 578.9 L1255.0 578.9 L1258.4 579.0 L1261.6 579.0 L1265.0 579.0 L1268.2 579.0 L1271.5 579.0 L1274.9 579.0 L1278.2 579.0 L1281.5 579.1 L1284.8 579.1 L1288.1 579.1 L1291.4 579.1 L1294.7 579.1 L1297.9 579.1 L1301.2 579.2 L1304.6 579.2 L1307.8 579.2 L1311.1 579.2 L1314.5 579.2 L1317.8 579.3 L1321.0 579.3 L1324.4 579.3 L1327.6 579.3 L1331.0 579.4 L1334.2 579.4 L1337.5 579.4 L1340.9 579.4 L1344.2 579.5 L1347.5 579.5 L1350.8 579.5 L1354.1 579.5 L1357.3 579.6 L1360.7 579.6 L1364.0 579.6 L1367.2 579.7 L1370.6 579.7 L1373.9 579.7 L1377.2 579.8 L1380.5 579.8 L1383.7 579.8 L1387.1 579.8 L1390.3 579.9 L1393.6 579.9 L1397.0 580.0 L1400.2 580.0 L1403.5 580.0 L1406.8 580.1 L1410.2 580.1 L1413.5 580.1 L1416.8 580.2 L1420.1 580.2 L1423.3 580.3 L1426.7 580.3 L1430.0 580.3 L1433.2 580.4 L1436.5 580.4 L1439.9 580.5 L1443.2 580.5 L1446.5 580.5 L1449.8 580.6 L1453.0 580.6 L1456.4 580.7 L1459.7 580.7 L1462.9 580.8 L1466.3 580.8 L1469.5 580.9 L1472.8 580.9 L1476.2 581.0 L1479.4 581.0 L1482.8 581.1 L1486.0 581.1 L1489.3 581.2 L1492.7 581.2 L1496.0 581.3 L1499.2 581.3 L1502.5 581.4 L1505.9 581.4 L1509.2 581.5 L1512.5 581.6 L1515.8 581.6 L1519.0 581.7 L1522.4 581.7 L1525.7 581.8 L1529.0 581.8 L1532.2 581.9 L1535.6 582.0 L1538.9 582.0 L1542.2 582.1 L1545.4 582.2 L1548.7 582.2 L1552.0 582.3 L1555.2 582.4 L1558.5 582.4 L1561.8 582.5 L1565.0 582.6 L1568.3 582.6 L1571.6 582.7 L1574.8 582.8 L1578.1 582.8 L1581.4 582.9 L1584.6 583.0 L1587.9 583.1 L1591.2 583.1 L1594.4 583.2 L1597.7 583.3 L1601.0 583.4 L1604.2 583.4 L1607.5 583.5 L1610.8 583.6 L1614.0 583.7 L1617.3 583.7 L1620.6 583.8 L1623.8 583.9 L1627.1 584.0 L1630.4 584.1 L1633.6 584.2 L1636.9 584.3 L1640.2 584.3 L1643.4 584.4 L1646.7 584.5 L1650.0 584.6 L1653.2 584.7 L1656.5 584.8 L1659.8 584.9 L1663.0 585.0 L1666.3 585.1 L1669.6 585.2 L1672.8 585.3 L1676.1 585.4 L1679.4 585.5 L1682.6 585.6 L1685.9 585.6 L1689.2 585.8 L1692.4 585.9 L1695.7 586.0 L1699.0 586.1 L1702.2 586.2 L1705.5 586.3 L1708.8 586.4 L1712.1 586.5 L1715.3 586.6 L1718.6 586.7 L1721.9 586.8 L1725.1 586.9 L1728.4 587.0 L1731.7 587.2 L1734.9 587.3 L1738.2 587.4 L1741.5 587.5 L1744.7 587.6 L1748.0 587.7 L1751.3 587.9 L1754.5 588.0 L1757.8 588.1 L1761.1 588.2 L1764.3 588.4 L1767.6 588.5 L1770.9 588.6 L1774.1 588.7 L1777.4 588.9 L1780.7 589.0 L1783.9 589.1 L1787.2 589.3 L1790.5 589.4 L1793.7 589.5 L1797.0 589.7 L1800.3 589.8 L1803.5 590.0 L1806.8 590.1 L1810.1 590.3 L1813.3 590.4 L1816.6 590.5 L1819.9 590.7 L1823.1 590.8 L1826.4 591.0 L1829.7 591.2 L1832.9 591.3 L1836.2 591.5 L1839.5 591.6 L1842.7 591.8 L1846.0 592.0 L1849.3 592.1 L1852.5 592.3 L1855.8 592.5 L1859.1 592.6 L1862.3 592.8 L1865.6 593.0 L1868.9 593.2 L1872.1 593.4 L1875.4 593.6 L1878.7 593.8 L1882.0 594.0 L1885.3 594.2 L1888.6 594.4 L1891.9 594.6 L1895.2 594.8 L1898.5 595.1 L1901.8 595.3 L1905.1 595.6 L1908.4 595.8 L1911.7 596.1 L1915.0 596.4 L1918.3 596.7 L1921.6 597.0 L1924.9 597.3 L1928.2 597.6 L1931.5 598.0 L1934.8 598.4 L1938.1 598.8 L1941.4 599.2 L1944.7 599.6 L1948.0 600.1 L1951.3 600.6 L1954.6 601.1 L1957.9 601.6 L1961.2 602.2 L1964.5 602.9 L1967.8 603.5 L1971.1 604.2 L1974.4 605.0 L1977.7 605.8 L1981.0 606.6 L1984.3 607.5 L1987.6 608.5 L1990.9 609.5 L1994.2 610.6 L1997.5 611.7 L2000.8 613.0 L2004.1 614.3 L2007.4 615.7 L2010.7 617.1 L2014.0 618.7 L2017.3 620.3 L2020.6 622.1 L2023.9 624.0 L2027.2 625.9 L2030.5 628.0 L2033.8 630.3 L2035.5 631.4 L2037.1 632.6 L2038.7 633.8 L2040.4 635.1 L2042.0 636.4 L2043.7 637.7 L2045.3 639.1 L2047.0 640.5 L2048.6 641.9 L2050.3 643.4 L2051.9 644.9 L2053.6 646.5 L2055.2 648.1 L2056.9 649.8 L2058.5 651.5 L2060.2 653.2 L2061.8 655.0 L2063.5 656.9 L2065.1 658.7 L2066.8 660.7 L2068.4 662.7 L2070.1 664.7 L2071.7 666.8 L2073.4 669.0 L2075.0 671.2 L2076.7 673.5 L2078.3 675.8 L2080.0 678.2 L2081.6 680.7 L2083.3 683.2 L2084.9 685.8 L2086.6 688.4 L2088.2 691.1 L2089.9 693.9 L2091.5 696.8 L2093.2 699.8 L2094.8 702.8 L2096.5 705.9 L2098.1 709.1 L2099.8 712.3 L2101.4 715.7 L2103.1 719.1 L2104.7 722.7 L2106.4 726.3 L2108.0 730.0 L2109.7 733.9 L2111.3 737.8 L2113.0 741.8 L2114.6 746.0 L2116.3 750.2 L2117.9 754.6 L2119.6 759.1 L2121.2 763.8 L2122.9 768.5 L2124.5 773.4 L2126.2 778.5 L2127.8 783.7 L2129.5 789.0 L2131.1 794.5 L2132.8 800.2 L2134.4 806.0 L2136.1 812.1 L2137.7 818.3 L2139.4 824.7 L2141.0 831.4 L2142.7 838.2 L2144.3 845.3 L2146.0 852.6 L2147.6 860.2 L2149.3 868.1 L2150.9 876.2 L2152.6 884.7 L2154.2 893.5 L2155.9 902.7 L2157.5 912.2 L2159.2 922.1 L2160.8 932.5 L2162.5 943.4 L2164.1 954.7 L2165.8 966.7 L2167.4 979.2 L2169.1 992.4 L2170.7 1006.4 L2172.4 1021.2 L2174.0 1036.9 L2175.7 1053.6 L2177.3 1071.5 L2179.0 1090.8 L2180.6 1111.7 L2182.3 1134.4 L2183.9 1159.3 L2185.6 1186.8 L2187.2 1217.6 L2188.9 1252.5 L2190.5 1292.9 L2192.2 1340.6 L2193.8 1399.1 L2195.5 1474.4 L2197.1 1579.4 L2198.8 1758.4 L2200.4 1801.9" stroke="#EDB120"/>
<path d="M227.2 1756.2 L228.8 1573.9 L230.5 1406.7 L232.1 1308.2 L233.7 1238.3 L235.4 1184.0 L237.0 1139.6 L238.6 1102.1 L240.3 1069.6 L241.9 1040.9 L243.5 1015.2 L245.2 992.0 L246.8 970.9 L248.4 951.4 L250.1 933.4 L251.7 916.7 L253.3 901.0 L255.0 886.4 L256.6 872.5 L258.2 859.5 L259.9 847.2 L261.5 835.4 L263.1 824.3 L264.8 813.7 L266.4 803.5 L268.0 793.8 L269.7 784.5 L271.3 775.6 L272.9 767.1 L274.6 758.8 L276.2 750.9 L277.8 743.3 L279.5 735.9 L281.1 728.8 L282.7 721.9 L284.4 715.3 L286.0 708.9 L287.6 702.6 L289.3 696.6 L290.9 690.8 L292.5 685.1 L294.2 679.7 L295.8 674.3 L297.4 669.2 L299.1 664.1 L300.7 659.3 L302.3 654.5 L304.0 649.9 L305.6 645.4 L307.2 641.1 L308.9 636.8 L310.5 632.7 L312.1 628.7 L313.8 624.8 L315.4 621.0 L317.0 617.3 L318.7 613.6 L320.3 610.1 L321.9 606.7 L323.6 603.3 L325.2 600.1 L326.8 596.9 L328.5 593.8 L330.1 590.8 L331.7 587.8 L333.4 585.0 L335.0 582.2 L336.6 579.4 L338.3 576.7 L339.9 574.1 L341.5 571.6 L343.2 569.1 L344.8 566.7 L346.4 564.3 L348.1 562.0 L349.7 559.8 L351.3 557.6 L353.0 555.5 L354.6 553.4 L356.2 551.4 L357.9 549.4 L359.5 547.4 L361.1 545.5 L362.8 543.7 L364.4 541.9 L366.0 540.1 L367.7 538.4 L369.3 536.8 L370.9 535.1 L372.6 533.5 L374.2 532.0 L375.8 530.5 L377.5 529.0 L379.1 527.6 L380.7 526.2 L382.4 524.8 L384.0 523.5 L385.6 522.2 L387.3 520.9 L388.9 519.6 L390.5 518.4 L392.2 517.3 L395.5 515.0 L398.7 512.9 L402.0 510.8 L405.3 508.9 L408.5 507.0 L411.8 505.3 L415.1 503.6 L418.3 502.1 L421.6 500.6 L424.9 499.2 L428.1 497.8 L431.4 496.6 L434.7 495.4 L437.9 494.2 L441.2 493.2 L444.5 492.2 L447.7 491.2 L451.0 490.3 L454.3 489.4 L457.5 488.6 L460.8 487.8 L464.1 487.1 L467.3 486.4 L470.6 485.8 L473.9 485.2 L477.1 484.6 L480.4 484.0 L483.7 483.5 L486.9 483.0 L490.2 482.5 L493.5 482.1 L496.7 481.7 L500.0 481.3 L503.3 480.9 L506.5 480.5 L509.8 480.2 L513.1 479.8 L516.3 479.5 L519.6 479.2 L522.9 478.9 L526.1 478.7 L529.4 478.4 L532.7 478.2 L535.9 477.9 L539.2 477.7 L542.5 477.5 L545.7 477.2 L549.0 477.0 L552.3 476.8 L555.6 476.6 L558.9 476.5 L562.1 476.3 L565.5 476.1 L568.8 475.9 L572.1 475.7 L575.4 475.6 L578.6 475.4 L581.9 475.3 L585.2 475.1 L588.5 475.0 L591.9 474.8 L595.1 474.7 L598.4 474.5 L601.8 474.4 L605.0 474.2 L608.4 474.1 L611.7 474.0 L615.0 473.8 L618.2 473.7 L621.5 473.6 L624.9 473.5 L628.1 473.3 L631.5 473.2 L634.8 473.1 L638.0 473.0 L641.4 472.8 L644.6 472.7 L648.0 472.6 L651.2 472.5 L654.6 472.4 L657.8 472.3 L661.2 472.1 L664.4 472.0 L667.8 471.9 L671.1 471.8 L674.4 471.7 L677.6 471.6 L680.9 471.5 L684.2 471.4 L687.6 471.3 L690.9 471.2 L694.1 471.1 L697.5 471.0 L700.8 470.9 L704.0 470.8 L707.4 470.7 L710.6 470.6 L714.0 470.5 L717.2 470.4 L720.5 470.3 L723.9 470.2 L727.2 470.1 L730.5 470.0 L733.8 469.9 L737.0 469.8 L740.4 469.7 L743.7 469.6 L746.9 469.5 L750.2 469.4 L753.5 469.3 L756.8 469.2 L760.2 469.1 L763.5 469.1 L766.8 469.0 L770.1 468.9 L773.4 468.8 L776.6 468.7 L780.0 468.6 L783.2 468.5 L786.5 468.5 L789.8 468.4 L793.1 468.3 L796.5 468.2 L799.8 468.1 L803.1 468.1 L806.4 468.0 L809.6 467.9 L813.0 467.8 L816.2 467.7 L819.5 467.7 L822.9 467.6 L826.2 467.5 L829.5 467.4 L832.8 467.4 L836.1 467.3 L839.4 467.2 L842.6 467.1 L846.0 467.1 L849.2 467.0 L852.5 466.9 L855.9 466.9 L859.2 466.8 L862.5 466.7 L865.8 466.7 L869.0 466.6 L872.4 466.5 L875.7 466.5 L879.0 466.4 L882.2 466.3 L885.5 466.3 L888.8 466.2 L892.1 466.1 L895.4 466.1 L898.7 466.0 L902.0 465.9 L905.3 465.9 L908.6 465.8 L911.9 465.8 L915.2 465.7 L918.5 465.7 L921.8 465.6 L925.1 465.5 L928.4 465.5 L931.7 465.4 L935.0 465.4 L938.3 465.3 L941.6 465.3 L944.9 465.2 L948.2 465.2 L951.5 465.1 L954.8 465.1 L958.1 465.0 L961.4 465.0 L964.7 464.9 L968.0 464.9 L971.3 464.8 L974.6 464.8 L977.9 464.7 L981.2 464.7 L984.5 464.6 L987.8 464.6 L991.1 464.5 L994.4 464.5 L997.7 464.5 L1001.0 464.4 L1004.3 464.4 L1007.6 464.3 L1010.9 464.3 L1014.2 464.3 L1017.5 464.2 L1020.8 464.2 L1024.1 464.1 L1027.4 464.1 L1030.7 464.1 L1034.0 464.0 L1037.3 464.0 L1040.6 464.0 L1043.9 463.9 L1047.2 463.9 L1050.5 463.9 L1053.8 463.8 L1057.1 463.8 L1060.4 463.8 L1063.7 463.8 L1067.0 463.7 L1070.3 463.7 L1073.6 463.7 L1076.9 463.6 L1080.2 463.6 L1083.5 463.6 L1086.8 463.6 L1090.1 463.5 L1093.4 463.5 L1096.7 463.5 L1100.0 463.5 L1103.3 463.4 L1106.6 463.4 L1109.9 463.4 L1113.2 463.4 L1116.5 463.4 L1119.8 463.3 L1123.1 463.3 L1126.4 463.3 L1129.7 463.3 L1133.0 463.3 L1136.3 463.3 L1139.6 463.2 L1142.9 463.2 L1146.2 463.2 L1149.5 463.2 L1152.8 463.2 L1156.1 463.2 L1159.4 463.2 L1162.7 463.2 L1166.0 463.2 L1169.3 463.1 L1172.6 463.1 L1175.9 463.1 L1179.2 463.1 L1182.5 463.1 L1185.8 463.1 L1189.1 463.1 L1192.4 463.1 L1195.7 463.1 L1199.0 463.1 L1202.3 463.1 L1205.6 463.1 L1208.9 463.1 L1212.2 463.1 L1215.4 463.1 L1218.8 463.1 L1222.0 463.1 L1225.3 463.1 L1228.7 463.1 L1231.9 463.1 L1235.2 463.1 L1238.5 463.1 L1241.8 463.1 L1245.2 463.1 L1248.5 463.1 L1251.8 463.1 L1255.0 463.1 L1258.4 463.1 L1261.6 463.1 L1265.0 463.2 L1268.2 463.2 L1271.5 463.2 L1274.9 463.2 L1278.2 463.2 L1281.5 463.2 L1284.8 463.2 L1288.1 463.2 L1291.4 463.3 L1294.7 463.3 L1297.9 463.3 L1301.2 463.3 L1304.6 463.3 L1307.8 463.3 L1311.1 463.4 L1314.5 463.4 L1317.8 463.4 L1321.0 463.4 L1324.4 463.4 L1327.6 463.5 L1331.0 463.5 L1334.2 463.5 L1337.5 463.5 L1340.9 463.5 L1344.2 463.6 L1347.5 463.6 L1350.8 463.6 L1354.1 463.6 L1357.3 463.7 L1360.7 463.7 L1364.0 463.7 L1367.2 463.8 L1370.6 463.8 L1373.9 463.8 L1377.2 463.9 L1380.5 463.9 L1383.7 463.9 L1387.1 463.9 L1390.3 464.0 L1393.6 464.0 L1397.0 464.1 L1400.2 464.1 L1403.5 464.1 L1406.8 464.2 L1410.2 464.2 L1413.5 464.2 L1416.8 464.3 L1420.1 464.3 L1423.3 464.4 L1426.7 464.4 L1430.0 464.4 L1433.2 464.5 L1436.5 464.5 L1439.9 464.6 L1443.2 464.6 L1446.5 464.7 L1449.8 464.7 L1453.0 464.7 L1456.4 464.8 L1459.7 464.8 L1462.9 464.9 L1466.3 464.9 L1469.5 465.0 L1472.8 465.0 L1476.2 465.1 L1479.4 465.1 L1482.8 465.2 L1486.0 465.2 L1489.3 465.3 L1492.7 465.3 L1496.0 465.4 L1499.2 465.4 L1502.5 465.5 L1505.9 465.6 L1509.2 465.6 L1512.5 465.7 L1515.8 465.7 L1519.0 465.8 L1522.4 465.9 L1525.7 465.9 L1529.0 466.0 L1532.2 466.0 L1535.6 466.1 L1538.9 466.2 L1542.2 466.2 L1545.4 466.3 L1548.7 466.3 L1552.0 466.4 L1555.2 466.5 L1558.5 466.5 L1561.8 466.6 L1565.0 466.7 L1568.3 466.7 L1571.6 466.8 L1574.8 466.9 L1578.1 467.0 L1581.4 467.0 L1584.6 467.1 L1587.9 467.2 L1591.2 467.2 L1594.4 467.3 L1597.7 467.4 L1601.0 467.5 L1604.2 467.5 L1607.5 467.6 L1610.8 467.7 L1614.0 467.8 L1617.3 467.8 L1620.6 467.9 L1623.8 468.0 L1627.1 468.1 L1630.4 468.2 L1633.6 468.3 L1636.9 468.3 L1640.2 468.4 L1643.4 468.5 L1646.7 468.6 L1650.0 468.7 L1653.2 468.8 L1656.5 468.8 L1659.8 468.9 L1663.0 469.0 L1666.3 469.1 L1669.6 469.2 L1672.8 469.3 L1676.1 469.4 L1679.4 469.5 L1682.6 469.6 L1685.9 469.7 L1689.2 469.7 L1692.4 469.8 L1695.7 469.9 L1699.0 470.0 L1702.2 470.1 L1705.5 470.2 L1708.8 470.3 L1712.1 470.4 L1715.3 470.5 L1718.6 470.6 L1721.9 470.7 L1725.1 470.8 L1728.4 470.9 L1731.7 471.0 L1734.9 471.1 L1738.2 471.2 L1741.5 471.4 L1744.7 471.5 L1748.0 471.6 L1751.3 471.7 L1754.5 471.8 L1757.8 471.9 L1761.1 472.0 L1764.3 472.1 L1767.6 472.2 L1770.9 472.4 L1774.1 472.5 L1777.4 472.6 L1780.7 472.7 L1783.9 472.8 L1787.2 472.9 L1790.5 473.1 L1793.7 473.2 L1797.0 473.3 L1800.3 473.4 L1803.5 473.6 L1806.8 473.7 L1810.1 473.8 L1813.3 474.0 L1816.6 474.1 L1819.9 474.2 L1823.1 474.4 L1826.4 474.5 L1829.7 474.6 L1832.9 474.8 L1836.2 474.9 L1839.5 475.1 L1842.7 475.2 L1846.0 475.4 L1849.3 475.5 L1852.5 475.7 L1855.8 475.9 L1859.1 476.0 L1862.3 476.2 L1865.6 476.4 L1868.9 476.6 L1872.1 476.8 L1875.4 477.0 L1878.7 477.2 L1882.0 477.4 L1885.3 477.6 L1888.6 477.8 L1891.9 478.0 L1895.2 478.3 L1898.5 478.5 L1901.8 478.8 L1905.1 479.0 L1908.4 479.3 L1911.7 479.6 L1915.0 479.9 L1918.3 480.3 L1921.6 480.6 L1924.9 481.0 L1928.2 481.3 L1931.5 481.7 L1934.8 482.1 L1938.1 482.6 L1941.4 483.0 L1944.7 483.5 L1948.0 484.0 L1951.3 484.6 L1954.6 485.2 L1957.9 485.8 L1961.2 486.4 L1964.5 487.1 L1967.8 487.8 L1971.1 488.6 L1974.4 489.4 L1977.7 490.3 L1981.0 491.2 L1984.3 492.2 L1987.6 493.2 L1990.9 494.3 L1994.2 495.4 L1997.5 496.6 L2000.8 497.9 L2004.1 499.3 L2007.4 500.7 L2010.7 502.2 L2014.0 503.8 L2017.3 505.5 L2020.6 507.3 L2023.9 509.2 L2027.2 511.2 L2030.5 513.3 L2033.8 515.5 L2035.5 516.7 L2037.1 517.9 L2038.7 519.1 L2040.4 520.3 L2042.0 521.6 L2043.7 522.9 L2045.3 524.3 L2047.0 525.7 L2048.6 527.1 L2050.3 528.5 L2051.9 530.0 L2053.6 531.6 L2055.2 533.2 L2056.9 534.8 L2058.5 536.4 L2060.2 538.1 L2061.8 539.9 L2063.5 541.7 L2065.1 543.5 L2066.8 545.4 L2068.4 547.3 L2070.1 549.3 L2071.7 551.3 L2073.4 553.4 L2075.0 555.5 L2076.7 557.7 L2078.3 560.0 L2080.0 562.3 L2081.6 564.6 L2083.3 567.1 L2084.9 569.5 L2086.6 572.1 L2088.2 574.7 L2089.9 577.4 L2091.5 580.1 L2093.2 582.9 L2094.8 585.8 L2096.5 588.8 L2098.1 591.8 L2099.8 594.9 L2101.4 598.1 L2103.1 601.4 L2104.7 604.8 L2106.4 608.3 L2108.0 611.8 L2109.7 615.5 L2111.3 619.2 L2113.0 623.0 L2114.6 627.0 L2116.3 631.0 L2117.9 635.2 L2119.6 639.5 L2121.2 643.9 L2122.9 648.4 L2124.5 653.1 L2126.2 657.9 L2127.8 662.8 L2129.5 667.9 L2131.1 673.1 L2132.8 678.5 L2134.4 684.0 L2136.1 689.8 L2137.7 695.7 L2139.4 701.8 L2141.0 708.0 L2142.7 714.5 L2144.3 721.3 L2146.0 728.2 L2147.6 735.4 L2149.3 742.9 L2150.9 750.6 L2152.6 758.6 L2154.2 767.0 L2155.9 775.7 L2157.5 784.7 L2159.2 794.1 L2160.8 804.0 L2162.5 814.2 L2164.1 825.0 L2165.8 836.3 L2167.4 848.2 L2169.1 860.7 L2170.7 873.9 L2172.4 887.9 L2174.0 902.7 L2175.7 918.6 L2177.3 935.5 L2179.0 953.7 L2180.6 973.5 L2182.3 994.9 L2183.9 1018.4 L2185.6 1044.3 L2187.2 1073.4 L2188.9 1106.3 L2190.5 1144.2 L2192.2 1189.1 L2193.8 1244.0 L2195.5 1314.7 L2197.1 1414.3 L2198.8 1583.2 L2200.4 1756.2" stroke="#7E2F8E"/>
</g>
<text font-family="Liberation Sans, Arial, Helvetica, sans-serif" font-size="57.5" fill="#1e1e1e" text-anchor="end" transform="translate(196.9 79.0) scale(0.94 1.0)">50</text>
<text font-family="Liberation Sans, Arial, Helvetica, sans-serif" font-size="57.5" fill="#1e1e1e" text-anchor="end" transform="translate(195.8 368.0) scale(0.94 1.0)">40</text>
<text font-family="Liberation Sans, Arial, Helvetica, sans-serif" font-size="57.5" fill="#1e1e1e" text-anchor="end" transform="translate(197.0 656.8) scale(0.94 1.0)">30</text>
<text font-family="Liberation Sans, Arial, Helvetica, sans-serif" font-size="57.5" fill="#1e1e1e" text-anchor="end" transform="translate(197.0 945.8) scale(0.94 1.0)">20</text>
<text font-family="Liberation Sans, Arial, Helvetica, sans-serif" font-size="57.5" fill="#1e1e1e" text-anchor="end" transform="translate(195.8 1231.7) scale(0.94 1.0)">10</text>
<text font-family="Liberation Sans, Arial, Helvetica, sans-serif" font-size="57.5" fill="#1e1e1e" text-anchor="end" transform="translate(196.6 1520.8) scale(0.94 1.0)">0</text>
<text font-family="Liberation Sans, Arial, Helvetica, sans-serif" font-size="57.5" fill="#1e1e1e" text-anchor="end" transform="translate(197.0 1809.3) scale(0.94 1.0)">10</text>
<text font-family="Liberation Sans, Arial, Helvetica, sans-serif" font-size="57.5" fill="#1e1e1e" text-anchor="middle" transform="translate(114.8 1815.4) scale(0.94 1.0)">−</text>
<text font-family="Liberation Sans, Arial, Helvetica, sans-serif" font-size="57.5" fill="#1e1e1e" text-anchor="middle" transform="translate(223.7 1867.6) scale(0.94 1.0)">0</text>
<text font-family="Liberation Sans, Arial, Helvetica, sans-serif" font-size="57.5" fill="#1e1e1e" text-anchor="middle" transform="translate(555.0 1867.4) scale(0.94 1.0)">0.5</text>
<text font-family="Liberation Sans, Arial, Helvetica, sans-serif" font-size="57.5" fill="#1e1e1e" text-anchor="middle" transform="translate(883.0 1867.4) scale(0.94 1.0)">1</text>
<text font-family="Liberation Sans, Arial, Helvetica, sans-serif" font-size="57.5" fill="#1e1e1e" text-anchor="middle" transform="translate(1212.5 1867.4) scale(0.94 1.0)">1.5</text>
<text font-family="Liberation Sans, Arial, Helvetica, sans-serif" font-size="57.5" fill="#1e1e1e" text-anchor="middle" transform="translate(1541.8 1867.4) scale(0.94 1.0)">2</text>
<text font-family="Liberation Sans, Arial, Helvetica, sans-serif" font-size="57.5" fill="#1e1e1e" text-anchor="middle" transform="translate(1870.5 1867.4) scale(0.94 1.0)">2.5</text>
<text font-family="Liberation Sans, Arial, Helvetica, sans-serif" font-size="57.5" fill="#1e1e1e" text-anchor="middle" transform="translate(2202.1 1867.1) scale(0.94 1.0)">3</text>
<text font-family="Liberation Sans, Arial, Helvetica, sans-serif" font-size="62.6" fill="#1e1e1e" text-anchor="middle" transform="translate(1215.0 1951.2)">Doppler frequency(Hz)</text>
<text font-family="Liberation Sans, Arial, Helvetica, sans-serif" font-size="62.6" fill="#1e1e1e" text-anchor="middle" transform="translate(83.6 922.0) rotate(-90)">SINR (dB)</text>
<text font-family="Liberation Sans, Arial, Helvetica, sans-serif" font-size="62" fill="#1e1e1e" text-anchor="middle" transform="translate(2089.2 1964.7)" fill-opacity="0.85">×</text>
<text font-family="Liberation Sans, Arial, Helvetica, sans-serif" font-size="57.5" fill="#1e1e1e" text-anchor="middle" transform="translate(2141.6 1959.9) scale(0.94 1.0)">10</text>
<text font-family="Liberation Sans, Arial, Helvetica, sans-serif" font-size="44" fill="#1e1e1e" text-anchor="middle" transform="translate(2186.7 1932.1) scale(0.94 1.0)">4</text>
<rect x="1019.8" y="1448.3" width="387.5" height="291.4" fill="#fff" stroke="#1e1e1e" stroke-width="3.3"/>
<path d="M1034.6 1489H1202.3" stroke="#0072BD" stroke-width="9.5"/>
<text font-family="Liberation Sans, Arial, Helvetica, sans-serif" font-size="52.2" fill="#1e1e1e" text-anchor="start" transform="translate(1213.5 1510.3)">DPCA</text>
<path d="M1034.6 1560.1H1202.3" stroke="#D95319" stroke-width="9.5"/>
<text font-family="Liberation Sans, Arial, Helvetica, sans-serif" font-size="52.2" fill="#1e1e1e" text-anchor="start" transform="translate(1213.7 1578.7)">ADPCA</text>
<path d="M1034.6 1627.2H1202.3" stroke="#EDB120" stroke-width="9.5"/>
<text font-family="Liberation Sans, Arial, Helvetica, sans-serif" font-size="52.2" fill="#1e1e1e" text-anchor="start" transform="translate(1216.1 1650.5)">SMI</text>
<path d="M1034.6 1700H1202.3" stroke="#7E2F8E" stroke-width="9.5"/>
<text font-family="Liberation Sans, Arial, Helvetica, sans-serif" font-size="52.2" fill="#1e1e1e" text-anchor="start" transform="translate(1214.2 1718.8)">SMI-LU</text>
</svg>
</body></html>
